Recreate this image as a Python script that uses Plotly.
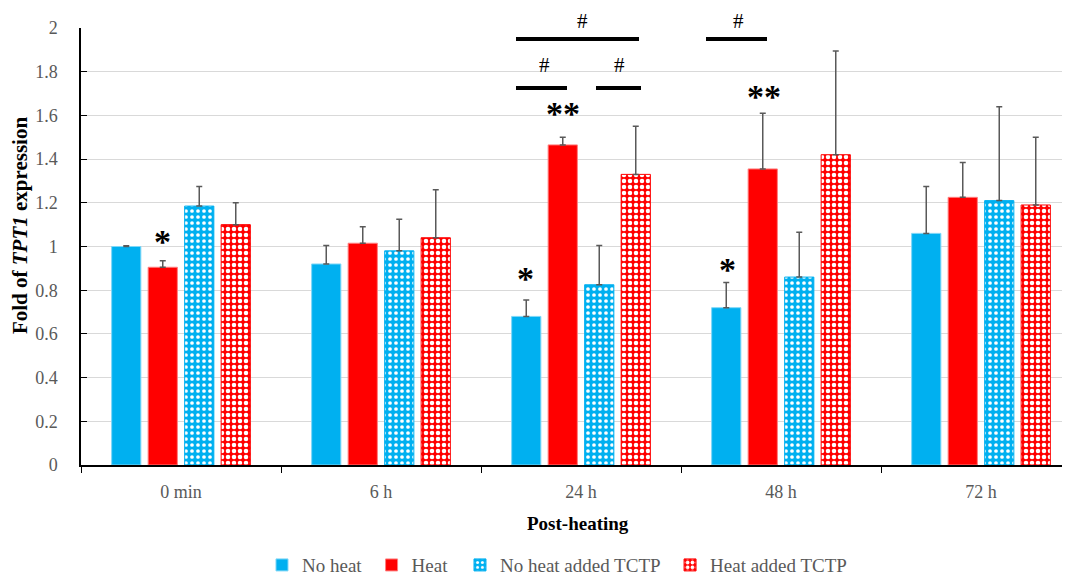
import plotly.graph_objects as go

categories = ["0 min", "6 h", "24 h", "48 h", "72 h"]
series_names = ["No heat", "Heat", "No heat added TCTP", "Heat added TCTP"]
no_heat = [1.00, 0.92, 0.68, 0.72, 1.06]
no_heat_err = [0.003, 0.085, 0.075, 0.115, 0.215]
heat = [0.905, 1.015, 1.465, 1.355, 1.225]
heat_err = [0.03, 0.075, 0.035, 0.255, 0.16]
noheat_tctp = [1.185, 0.98, 0.825, 0.86, 1.21]
noheat_tctp_err = [0.09, 0.145, 0.18, 0.205, 0.43]
heat_tctp = [1.10, 1.04, 1.33, 1.42, 1.19]
heat_tctp_err = [0.10, 0.22, 0.22, 0.475, 0.31]

# significance marks: (x in category units, y value, text)
star_x = [-0.095, 1.72, 2.73, 1.91, 2.915]
star_y = [1.025, 0.855, 0.895, 1.61, 1.685]
star_text = ["*", "*", "*", "**", "**"]
# bracket lines (x0, x1, y)
line_x0 = [1.675, 1.675, 2.075, 2.625]
line_x1 = [2.29, 1.93, 2.30, 2.93]
line_y = [1.95, 1.725, 1.725, 1.95]
hash_x = [2.005, 1.815, 2.19, 2.785]
hash_y = [2.03, 1.83, 1.83, 2.03]
Y_MAX = 2.0

BLUE = "#00B0F0"
RED = "#FF0000"
GRAY = "#595959"
FONT = "Liberation Serif"

fig = go.Figure()
err_style = dict(type="data", symmetric=False, color=GRAY, thickness=1.5, width=3)

legend_x = [0.183, 0.2938, 0.3832, 0.5956]
legend_ids = ["legend", "legend2", "legend3", "legend4"]

def add(i, vals, errs, color, line_color, pattern=None):
    fig.add_trace(go.Bar(
        name=series_names[i], x=categories, y=vals, legend=legend_ids[i],
        marker=dict(color=color, line=dict(color=line_color, width=1), pattern=pattern),
        error_y=dict(array=errs, arrayminus=[0]*len(errs), **err_style),
    ))

add(0, no_heat, no_heat_err, BLUE, "#7FD7F7")
add(1, heat, heat_err, RED, "#FF7F7F")
add(2, noheat_tctp, noheat_tctp_err, BLUE, BLUE,
    dict(shape=".", fgcolor="white", bgcolor=BLUE, size=6, solidity=0.3, fillmode="replace"))
add(3, heat_tctp, heat_tctp_err, RED, RED,
    dict(shape=".", fgcolor="white", bgcolor=RED, size=6, solidity=0.45, fillmode="replace"))

for x, y, t in zip(star_x, star_y, star_text):
    fig.add_annotation(x=x, y=y, xref="x", yref="y", text="<b>" + t + "</b>", showarrow=False,
                       font=dict(family=FONT, size=34, color="black"), yanchor="middle")
for x0, x1, y in zip(line_x0, line_x1, line_y):
    fig.add_shape(type="line", x0=x0, x1=x1, y0=y, y1=y, xref="x", yref="y",
                  line=dict(color="black", width=4))
for x, y in zip(hash_x, hash_y):
    fig.add_annotation(x=x, y=y / Y_MAX, xref="x", yref="paper", text="#", showarrow=False,
                       font=dict(family=FONT, size=21, color="black"), yanchor="middle")

# axis titles
fig.add_annotation(x=-0.0617, y=0.549, xref="paper", yref="paper", textangle=-90,
                   xanchor="center", yanchor="middle",
                   text="<b>Fold of <i>TPT1</i> expression</b>", showarrow=False,
                   font=dict(family=FONT, size=21, color="black"))
fig.add_annotation(x=0.5025, y=-0.133, xref="paper", yref="paper",
                   xanchor="center", yanchor="middle",
                   text="<b>Post-heating</b>", showarrow=False,
                   font=dict(family=FONT, size=19, color="black"))

layout_legends = {}
for lid, lx in zip(legend_ids, legend_x):
    layout_legends[lid] = dict(orientation="h", x=lx, xanchor="left", y=-0.229, yanchor="middle",
                               font=dict(family=FONT, size=19, color=GRAY), bgcolor="rgba(0,0,0,0)")

fig.update_layout(
    width=1062, height=568,
    margin=dict(l=73, r=0, t=20, b=111, autoexpand=False),
    plot_bgcolor="white", paper_bgcolor="white",
    barmode="group", bargap=0.27, bargroupgap=0.2,
    font=dict(family=FONT, size=18, color=GRAY),
    xaxis=dict(
        type="category", range=[-0.5, 4.445], automargin=False,
        showline=True, linecolor="black", linewidth=1.5,
        ticks="outside", tickson="boundaries", ticklen=6, tickcolor="black",
        tickfont=dict(family=FONT, size=18, color=GRAY), ticklabelstandoff=10,
    ),
    yaxis=dict(
        range=[0, Y_MAX], dtick=0.2, tickformat="~g", automargin=False,
        showline=True, linecolor="black", linewidth=1.5,
        ticks="inside", ticklen=6, tickcolor="black",
        showgrid=True, gridcolor="#D9D9D9", gridwidth=1,
        zeroline=False, ticklabelstandoff=18,
        tickfont=dict(family=FONT, size=18, color=GRAY),
    ),
    showlegend=True,
    **layout_legends,
)

fig.write_html("out.html")
